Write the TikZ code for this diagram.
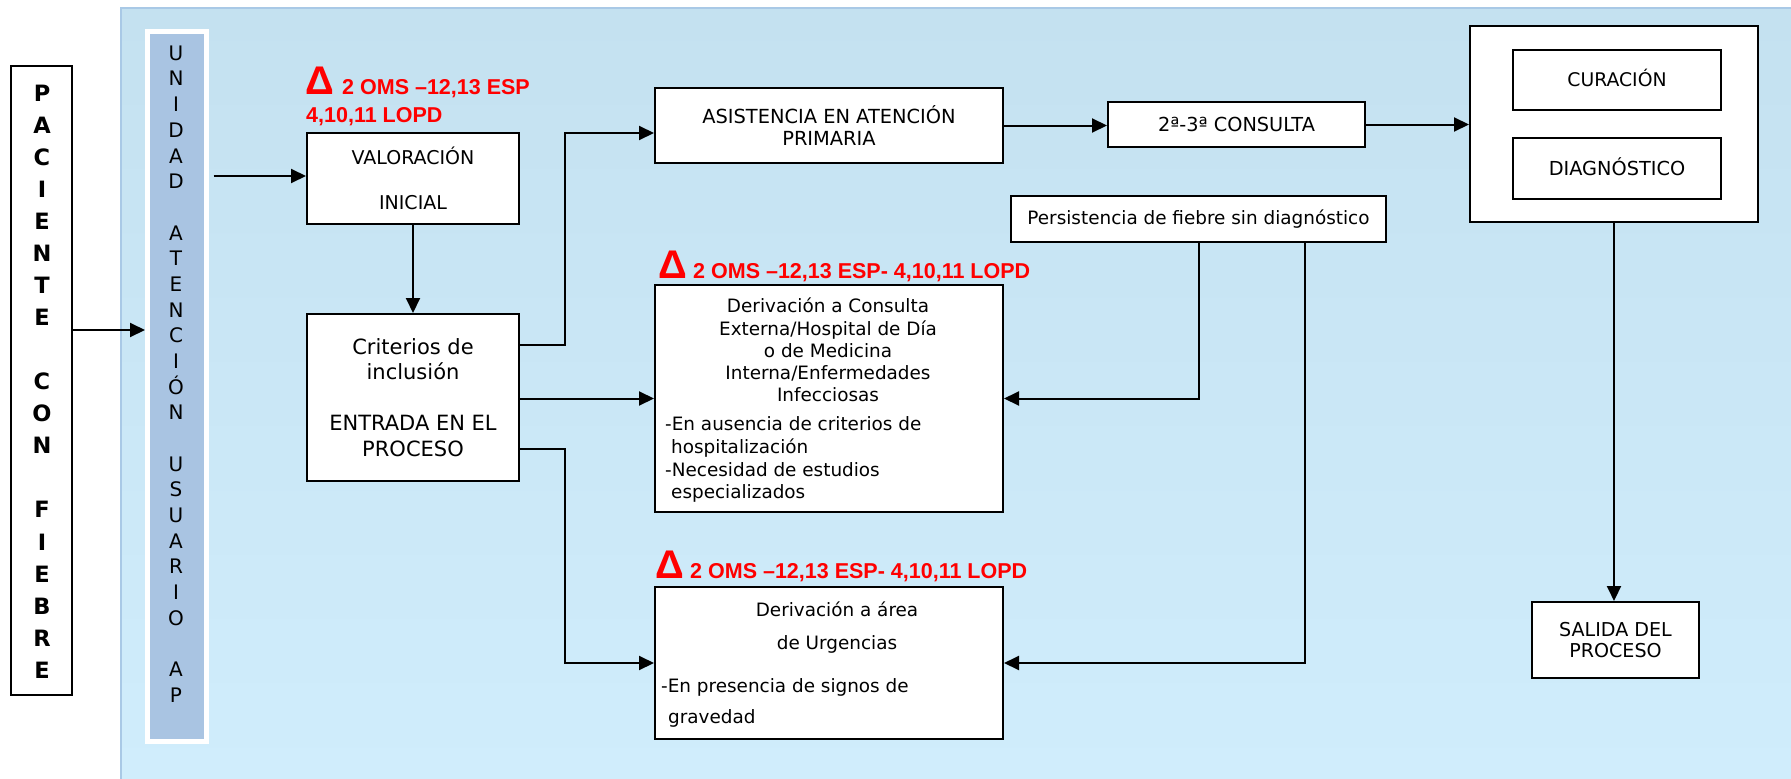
\documentclass[tikz,border=0pt]{standalone}
\usepackage{fontspec}
\setmainfont{DejaVu Sans}
\newfontfamily\arialf{Liberation Sans}
\usetikzlibrary{arrows.meta}
\definecolor{panTop}{HTML}{C4E1F0}
\definecolor{panBot}{HTML}{D0EDFC}
\definecolor{panEdge}{HTML}{A9C9E6}
\definecolor{colBlue}{HTML}{A9C4E2}
\tikzset{
  box/.style={draw=black, line width=2pt, fill=white, inner sep=0pt, align=center},
  one/.style={text height=13.9pt, text depth=0pt},
  ln/.style={inner sep=0pt, text height=13.4pt, text depth=0pt, font=\fontsize{18.4}{22}\selectfont},
  arr/.style={line width=2pt, -{Triangle[length=15pt,width=14pt]}},
  redlbl/.style={text=red, font=\arialf\bfseries\fontsize{21.5}{24}\selectfont, inner sep=0pt, anchor=base west},
  deltalbl/.style={text=red, font=\arialf\bfseries\fontsize{40}{42}\selectfont, inner sep=0pt, anchor=base west}
}
\begin{document}
\begin{tikzpicture}[x=1pt,y=-1pt]
\useasboundingbox (0,0) rectangle (1791,779);
\fill[white] (0,0) rectangle (1791,779);
% panel
\shade[top color=panTop, bottom color=panBot] (121,8) rectangle (1791,779);
\draw[panEdge, line width=2pt] (121,779) -- (121,8) -- (1791,8);

% PACIENTE CON FIEBRE
\node[box, minimum width=61pt, minimum height=629pt] (pac) at (41.5,380.5) {};
\node[inner sep=0pt, align=center, font=\bfseries\fontsize{22.5}{32.06}\selectfont] (pactxt) at (42,381.5)
  {P\\A\\C\\I\\E\\N\\T\\E\\\mbox{}\\C\\O\\N\\\mbox{}\\F\\I\\E\\B\\R\\E};

% column
\node[fill=colBlue, draw=white, line width=5pt, minimum width=59pt, minimum height=710pt, inner sep=0pt] (colm) at (177,386) {};
\node[inner sep=0pt, align=center, font=\fontsize{20}{25.68}\selectfont] (coltxt) at (176,374)
  {U\\N\\I\\D\\A\\D\\\mbox{}\\A\\T\\E\\N\\C\\I\\Ó\\N\\\mbox{}\\U\\S\\U\\A\\R\\I\\O\\\mbox{}\\A\\P};

% red labels
\node[deltalbl] (d1) at (305,94) {Δ};
\node[redlbl] (r1a) at (342,94) {2 OMS –12,13 ESP};
\node[redlbl] (r1b) at (306,122) {4,10,11 LOPD};
\node[deltalbl] (d2) at (658,278) {Δ};
\node[redlbl] (r2) at (693,278) {2 OMS –12,13 ESP- 4,10,11 LOPD};
\node[deltalbl] (d3) at (655,578) {Δ};
\node[redlbl] (r3) at (690,578) {2 OMS –12,13 ESP- 4,10,11 LOPD};

% boxes
\node[box, minimum width=212pt, minimum height=91pt, font=\fontsize{19}{45}\selectfont] (val) at (413,178.5) {VALORACIÓN\\INICIAL};
\node[box, minimum width=212pt, minimum height=167pt, font=\fontsize{21}{25.5}\selectfont] (crit) at (413,397.5)
  {Criterios de\\inclusión\\\mbox{}\\ENTRADA EN EL\\PROCESO};
\node[box, minimum width=348pt, minimum height=75pt, font=\fontsize{19.4}{22}\selectfont] (asis) at (829,125.5)
  {ASISTENCIA EN ATENCIÓN\\PRIMARIA};
\node[box, one, minimum width=257pt, minimum height=45pt, font=\fontsize{19.3}{22}\selectfont] (cons) at (1236.5,124.5) {2ª-3ª CONSULTA};
\node[box, minimum width=375pt, minimum height=46pt, font=\fontsize{18.4}{22}\selectfont] (pers) at (1198.5,219)
  {Persistencia de fiebre sin diagnóstico};
\node[box, minimum width=348pt, minimum height=227pt] (derc) at (829,398.5) {};
\node[box, minimum width=348pt, minimum height=152pt] (urg) at (829,663) {};
\node[box, minimum width=288pt, minimum height=196pt] (out) at (1614,124) {};
\node[box, one, minimum width=208pt, minimum height=60pt, font=\fontsize{18.8}{22}\selectfont] (cur) at (1617,80) {CURACIÓN};
\node[box, one, minimum width=208pt, minimum height=61pt, font=\fontsize{19.3}{22}\selectfont] (diag) at (1617,168.5) {DIAGNÓSTICO};
\node[box, minimum width=167pt, minimum height=76pt, font=\fontsize{19.1}{21}\selectfont] (sal) at (1615.5,640) {SALIDA DEL\\PROCESO};

% text of derivation boxes
\foreach \t [count=\i] in {Derivación a Consulta, Externa/Hospital de Día, o de Medicina, Interna/Enfermedades, Infecciosas}
  \node[ln] (dc\i) at (828,{306+(\i-1)*22.3}) {\t};
\node[ln, anchor=west] (dl1) at (665,424) {-En ausencia de criterios de};
\node[ln, anchor=west] (dl2) at (671,447) {hospitalización};
\node[ln, anchor=west] (dl3) at (665,470) {-Necesidad de estudios};
\node[ln, anchor=west] (dl4) at (671,492) {especializados};

\node[ln] (u1) at (837,610) {Derivación a área};
\node[ln] (u2) at (837,643) {de Urgencias};
\node[ln, anchor=west] (u3) at (661,686) {-En presencia de signos de};
\node[ln, anchor=west] (u4) at (668,717) {gravedad};

% connectors
\draw[arr] ([yshift=50.5pt]pac.east) -- ([yshift=50.5pt]pac.east -| colm.west);
\draw[arr, shorten <=4.5pt] ([yshift=2.5pt]val.west -| colm.east) -- ([yshift=2.5pt]val.west);
\draw[arr] (val.south) -- (crit.north);
\draw[arr] ([yshift=52.5pt]crit.east) -- ++(45,0) |- ([yshift=-7.5pt]asis.west);
\draw[arr] (derc.west -| crit.east) -- (derc.west);
\draw[arr] ([yshift=-51.5pt]crit.east) -- ++(45,0) |- (urg.west);
\draw[arr] (asis.east) -- (asis.east -| cons.west);
\draw[arr] (cons.east) -- (cons.east -| out.west);
\draw[arr] (pers.south) |- (derc.east);
\draw[arr] ([xshift=106.5pt]pers.south) |- (urg.east);
\draw[arr] (out.south) -- (out.south |- sal.north);
\end{tikzpicture}
\end{document}
